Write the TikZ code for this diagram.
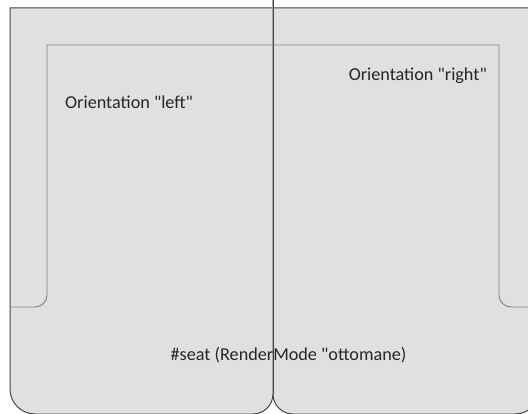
\documentclass[tikz,border=0pt]{standalone}
\usepackage{fontspec}
\setmainfont{Carlito}[Ligatures=TeXOff]
\definecolor{seatfill}{HTML}{E0E0E0}
\definecolor{outerline}{HTML}{444444}
\definecolor{innerline}{HTML}{808080}
\begin{document}
\begin{tikzpicture}[x=1pt,y=-1pt,
  seat/.style={fill=seatfill,draw=outerline,line width=1pt},
  back/.style={draw=innerline,line width=0.9pt},
  lbl/.style={font=\fontsize{18.2}{22}\selectfont,text=black!85,inner sep=0pt}]
\useasboundingbox (0,0) rectangle (528,414);
\begin{scope}
\clip (0,0) rectangle (528,414);
% left seat
\path[seat] (10,8) -- (273,8) -- (273,394) arc[start angle=0,end angle=90,radius=20] -- (35,414)
  arc[start angle=90,end angle=180,radius=25] -- cycle;
% right seat
\path[seat] (273,8) -- (540,8) -- (540,389) arc[start angle=0,end angle=90,radius=25] -- (293,414)
  arc[start angle=90,end angle=180,radius=20] -- cycle;
% backrest line
\draw[back] (10,307) -- (35,307) arc[start angle=90,end angle=0,radius=12] -- (47,45) -- (499,45)
  -- (499,295) arc[start angle=180,end angle=90,radius=12] -- (528,307);
% center joint
\draw[draw=black!35,line width=2.2pt] (273,0) -- (273,394);
\draw[draw=outerline,line width=1pt] (273,0) -- (273,394);
\end{scope}
\node[lbl,anchor=base west] (left) at (65,109) {Orientation "left"};
\node[lbl,anchor=base east] (right) at (487,81) {Orientation "right"};
\node[lbl,anchor=base] (seat) at (288.5,361) {\#seat (RenderMode "ottomane)};
\end{tikzpicture}
\end{document}
